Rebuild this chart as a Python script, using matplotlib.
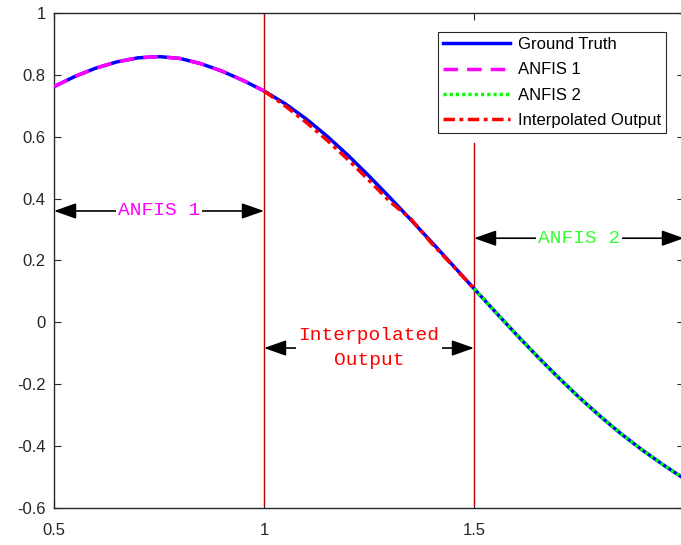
import matplotlib
matplotlib.use("Agg")
import matplotlib.pyplot as plt

# Sampled curve values
x_truth = [0.50, 0.55, 0.60, 0.65, 0.70, 0.75, 0.80, 0.85, 0.90, 0.95,
           1.00, 1.05, 1.10, 1.15, 1.20, 1.25, 1.30, 1.35, 1.40, 1.45,
           1.50, 1.55, 1.60, 1.65, 1.70, 1.75, 1.80, 1.85, 1.90, 1.95, 2.00]
y_truth = [0.762, 0.795, 0.822, 0.842, 0.855, 0.859, 0.853, 0.836, 0.812, 0.782,
           0.748, 0.707, 0.658, 0.602, 0.540, 0.473, 0.403, 0.331, 0.258, 0.184,
           0.109, 0.035, -0.038, -0.109, -0.177, -0.242, -0.303, -0.360, -0.412, -0.460, -0.505]

x_anfis1 = [0.50, 0.55, 0.60, 0.65, 0.70, 0.75, 0.80, 0.85, 0.90, 0.95, 1.00]
y_anfis1 = [0.762, 0.795, 0.822, 0.842, 0.855, 0.859, 0.853, 0.836, 0.812, 0.782, 0.748]

x_anfis2 = [1.50, 1.55, 1.60, 1.65, 1.70, 1.75, 1.80, 1.85, 1.90, 1.95, 2.00]
y_anfis2 = [0.109, 0.035, -0.038, -0.109, -0.177, -0.242, -0.303, -0.360, -0.412, -0.460, -0.505]

x_interp = [1.00, 1.05, 1.10, 1.15, 1.20, 1.25, 1.30, 1.35, 1.40, 1.45, 1.50]
y_interp = [0.748, 0.700, 0.647, 0.589, 0.526, 0.459, 0.390, 0.334, 0.254, 0.182, 0.109]

legend_labels = ["Ground Truth", "ANFIS 1", "ANFIS 2", "Interpolated Output"]
region_labels = ["ANFIS 1", "Interpolated\nOutput", "ANFIS 2"]
region_bounds = [0.5, 1.0, 1.5, 2.0]

xticks = [0.5, 1, 1.5, 2]
xtick_labels = ["0.5", "1", "1.5", "2"]
yticks = [-0.6, -0.4, -0.2, 0, 0.2, 0.4, 0.6, 0.8, 1]
ytick_labels = ["-0.6", "-0.4", "-0.2", "0", "0.2", "0.4", "0.6", "0.8", "1"]

plt.rcParams["font.family"] = ["Liberation Sans", "DejaVu Sans"]

fig = plt.figure(figsize=(6.81, 5.45), dpi=100)
ax = fig.add_axes([0.0793, 0.0679, 0.9251, 0.9083])

lw = 2.5
ax.plot(x_truth, y_truth, color=(0, 0, 1), lw=lw, label=legend_labels[0], zorder=3)
ax.plot(x_anfis1, y_anfis1, color=(1, 0, 1), lw=lw, dashes=(4.2, 2.6),
        label=legend_labels[1], zorder=4)
ax.plot(x_anfis2, y_anfis2, color=(0, 1, 0), lw=lw, dashes=(0.9, 0.9),
        label=legend_labels[2], zorder=4)
ax.plot(x_interp, y_interp, color=(1, 0, 0), lw=lw, dashes=(3.3, 1.3, 1.1, 1.3),
        label=legend_labels[3], zorder=4)

# Region boundaries
bound_color = "#C00000"
ax.plot([1.0, 1.0], [1.0, -0.59], color=bound_color, lw=1.0, zorder=2)
ax.plot([1.5, 1.5], [0.58, -0.59], color=bound_color, lw=1.0, zorder=2)

ax.set_xlim(0.5, 2.0)
ax.set_ylim(-0.6, 1.0)
ax.set_xticks(xticks)
ax.set_xticklabels(xtick_labels)
ax.set_yticks(yticks)
ax.set_yticklabels(ytick_labels)
ax.tick_params(direction="in", length=5, width=0.8, top=True, right=True,
               labelsize=12, colors="#262626")
ax.tick_params(axis="x", pad=11)
ax.tick_params(axis="y", pad=6)
for sp in ax.spines.values():
    sp.set_color("#262626")
    sp.set_linewidth(1.0)

# Region arrows with labels
arrow_kw = dict(arrowstyle="<|-|>,head_length=0.85,head_width=0.3",
                color="black", lw=1.2, mutation_scale=16, shrinkA=0, shrinkB=0)
arrow_y = [0.36, -0.083, 0.272]
label_colors = [(1, 0, 1), (1, 0, 0), (0.2, 1, 0.2)]
mono = ["Liberation Mono", "DejaVu Sans Mono"]
for i in range(3):
    x0, x1 = region_bounds[i], region_bounds[i + 1]
    ax.annotate("", xy=(x1, arrow_y[i]), xytext=(x0, arrow_y[i]),
                arrowprops=arrow_kw, zorder=5, annotation_clip=False)
    ax.text((x0 + x1) / 2, arrow_y[i], region_labels[i], color=label_colors[i],
            family=mono, fontsize=14, ha="center", va="center",
            linespacing=1.6, zorder=6,
            bbox=dict(facecolor="white", edgecolor="none", pad=1.5))

leg = ax.legend(loc="upper right", bbox_to_anchor=(0.978, 0.941),
                bbox_transform=fig.transFigure, borderaxespad=0,
                fontsize=12, handlelength=4.0, handletextpad=0.5,
                labelspacing=0.62, borderpad=0.3, fancybox=False,
                framealpha=1, edgecolor="#262626")
leg.get_frame().set_linewidth(0.8)

fig.savefig("out.png", dpi=100)
